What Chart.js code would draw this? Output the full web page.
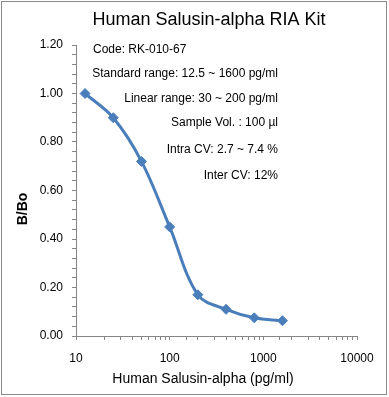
<!DOCTYPE html>
<html>
<head>
<meta charset="utf-8">
<script src="https://cdn.jsdelivr.net/npm/chart.js@4"></script>
<style>
  html, body { margin: 0; padding: 0; background: #fff; }
  #wrap { width: 389px; height: 397px; }
</style>
</head>
<body>
<div id="wrap"><canvas id="myChart"></canvas></div>
<script>
const concentrations = [12.5, 25, 50, 100, 200, 400, 800, 1600];
const bBo = [1.00, 0.90, 0.72, 0.45, 0.17, 0.11, 0.075, 0.063];
const xTickLabels = [10, 100, 1000, 10000];
const yTickLabels = [0, 0.2, 0.4, 0.6, 0.8, 1.0, 1.2];

const notes = [
    'Code: RK-010-67',
    'Standard range: 12.5 ~ 1600 pg/ml',
    'Linear range: 30 ~ 200 pg/ml',
    'Sample Vol. : 100 \u00b5l',
    'Intra CV: 2.7 ~ 7.4 %',
    'Inter CV: 12%'
];

const FONT = '"Liberation Sans", Arial, sans-serif';
const blue = 'rgb(74, 126, 187)';
const axisGray = '#868686';

// title, notes, axis titles and the frame
const extras = {
    id: 'extras',
    afterDraw(chart) {
        const c = chart.ctx;
        c.save();
        c.fillStyle = '#000';
        c.textBaseline = 'middle';

        c.font = '18px ' + FONT;
        c.textAlign = 'center';
        c.fillText('Human Salusin-alpha RIA Kit', 209, 20);

        c.font = '12px ' + FONT;
        c.textAlign = 'left';
        c.fillText(notes[0], 93, 50);
        c.textAlign = 'right';
        const ys = [74, 99, 123, 150, 176];
        for (let i = 1; i < notes.length; i++) {
            c.fillText(notes[i], 278, ys[i - 1]);
        }

        c.font = '14px ' + FONT;
        c.textAlign = 'center';
        c.fillText('Human Salusin-alpha (pg/ml)', 203, 379);

        c.font = 'bold 14px ' + FONT;
        c.translate(23, 209);
        c.rotate(-Math.PI / 2);
        c.fillText('B/Bo', 0, 0);
        c.restore();

        c.save();
        c.strokeStyle = '#8a8a8a';
        c.lineWidth = 1;
        c.strokeRect(1.5, 1.5, 385, 393);
        c.restore();
    }
};

new Chart(document.getElementById('myChart'), {
    type: 'line',
    data: {
        datasets: [{
            data: concentrations.map((x, i) => ({ x: x, y: bBo[i] })),
            borderColor: blue,
            backgroundColor: blue,
            borderWidth: 3,
            tension: 0.35,
            pointStyle: 'rectRot',
            pointRadius: 5,
            pointBorderWidth: 1,
            fill: false
        }]
    },
    options: {
        responsive: true,
        maintainAspectRatio: false,
        animation: false,
        layout: { padding: { top: 45, left: 0, right: 32, bottom: 0 } },
        plugins: {
            legend: { display: false },
            tooltip: { enabled: false },
            title: { display: false }
        },
        scales: {
            x: {
                type: 'logarithmic',
                min: 10,
                max: 10000,
                afterFit: (s) => { s.height = 61; },
                border: { color: axisGray, width: 1 },
                grid: { drawOnChartArea: false, tickLength: 4, color: axisGray },
                ticks: {
                    autoSkip: false,
                    maxRotation: 0,
                    padding: 11,
                    color: '#000',
                    font: { family: FONT, size: 12 },
                    callback: (v) => xTickLabels.includes(v) ? String(v) : ''
                }
            },
            y: {
                min: 0,
                max: 1.2,
                afterFit: (s) => { s.width = 76; },
                border: { color: axisGray, width: 1 },
                grid: { drawOnChartArea: false, tickLength: 4, color: axisGray },
                ticks: {
                    stepSize: 0.04,
                    autoSkip: false,
                    padding: 9,
                    color: '#000',
                    font: { family: FONT, size: 12 },
                    callback: (v) => yTickLabels.some(t => Math.abs(t - v) < 1e-6) ? v.toFixed(2) : ''
                }
            }
        }
    },
    plugins: [extras]
});
</script>
</body>
</html>
